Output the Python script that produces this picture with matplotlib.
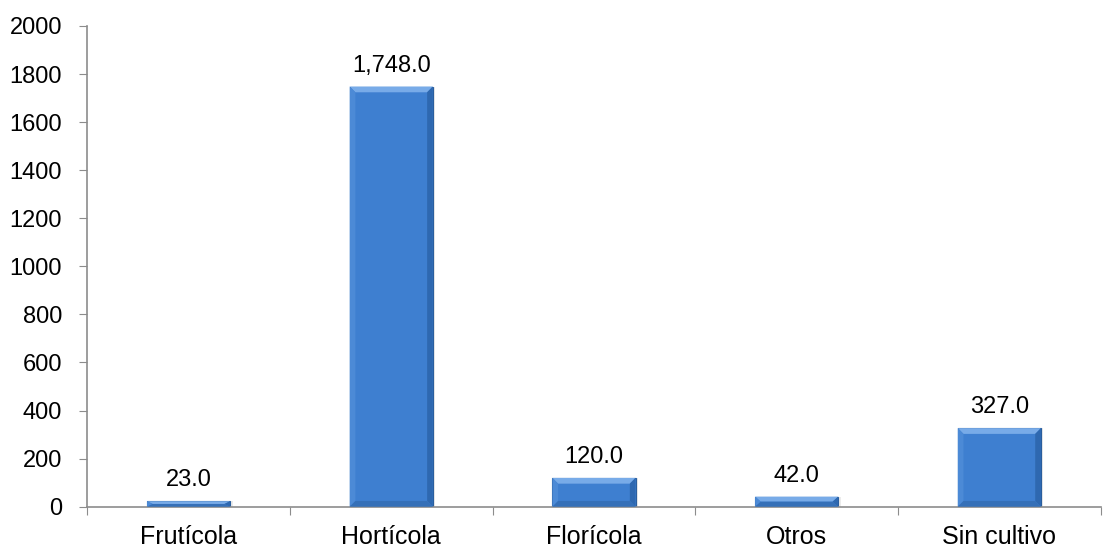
import matplotlib.pyplot as plt
from matplotlib.patches import Polygon
import numpy as np

plt.rcParams['font.family'] = ['Liberation Sans', 'DejaVu Sans']

# Superficie por tipo de cultivo
cultivos = ["Frutícola", "Hortícola", "Florícola", "Otros", "Sin cultivo"]
valores = [23.0, 1748.0, 120.0, 42.0, 327.0]
y_ticks = [0, 200, 400, 600, 800, 1000, 1200, 1400, 1600, 1800, 2000]

color_barra = "#3E7FD0"
gris = "#8C8C8C"

fig = plt.figure(figsize=(11.04, 5.52), dpi=100)
ax = fig.add_axes([0.079, 0.082, 0.918, 0.871])

x = np.arange(len(cultivos))
ancho = 0.41
barras = ax.bar(x, valores, width=ancho, color=color_barra, edgecolor="#2A5E9E",
                linewidth=0.8, zorder=2)

ax.set_xlim(-0.5, len(cultivos) - 0.5)
ax.set_ylim(0, 2000)


# Bisel: caras claras arriba/izquierda, oscuras a la derecha/abajo
def bisel(ax, b):
    x0 = b.get_x()
    w = b.get_width()
    h = b.get_height()
    # tamaño del bisel en unidades de datos (~6 px)
    dx = 0.028
    dy = min(24.0, h / 2.0)
    x1 = x0 + w
    caras = [
        ([(x0, h), (x1, h), (x1 - dx, h - dy), (x0 + dx, h - dy)], "#78ABE8"),
        ([(x0, 0), (x0, h), (x0 + dx, h - dy), (x0 + dx, dy)], "#4C8AD6"),
        ([(x1, 0), (x1, h), (x1 - dx, h - dy), (x1 - dx, dy)], "#2E68B0"),
        ([(x0, 0), (x1, 0), (x1 - dx, dy), (x0 + dx, dy)], "#3570B8"),
    ]
    for pts, c in caras:
        ax.add_patch(Polygon(pts, closed=True, facecolor=c, edgecolor="none", zorder=3))
    # sombra suave
    ax.add_patch(plt.Rectangle((x1, 0), 0.012, h, facecolor="#000000", alpha=0.08,
                               edgecolor="none", zorder=1))


for b in barras:
    bisel(ax, b)

for xi, v in zip(x, valores):
    ax.annotate(f"{v:,.1f}", (xi, v), xytext=(0, 7), textcoords="offset points",
                ha="center", va="bottom", fontsize=17, color="#000000")

ax.set_yticks(y_ticks)
ax.set_yticklabels([str(t) for t in y_ticks], fontsize=17)
ax.set_xticks(np.arange(-0.5, len(cultivos)), minor=False)
ax.set_xticklabels([])
ax.set_xticks(x, minor=True)
ax.set_xticklabels(cultivos, minor=True, fontsize=18)
ax.tick_params(axis="x", which="minor", length=0, pad=13)
ax.tick_params(axis="x", which="major", length=6, color=gris, direction="out")
ax.tick_params(axis="y", length=6, color=gris, direction="out", pad=12)

for s in ["top", "right"]:
    ax.spines[s].set_visible(False)
for s in ["left", "bottom"]:
    ax.spines[s].set_color(gris)
    ax.spines[s].set_linewidth(1.2)

fig.savefig("out.png", dpi=100)
